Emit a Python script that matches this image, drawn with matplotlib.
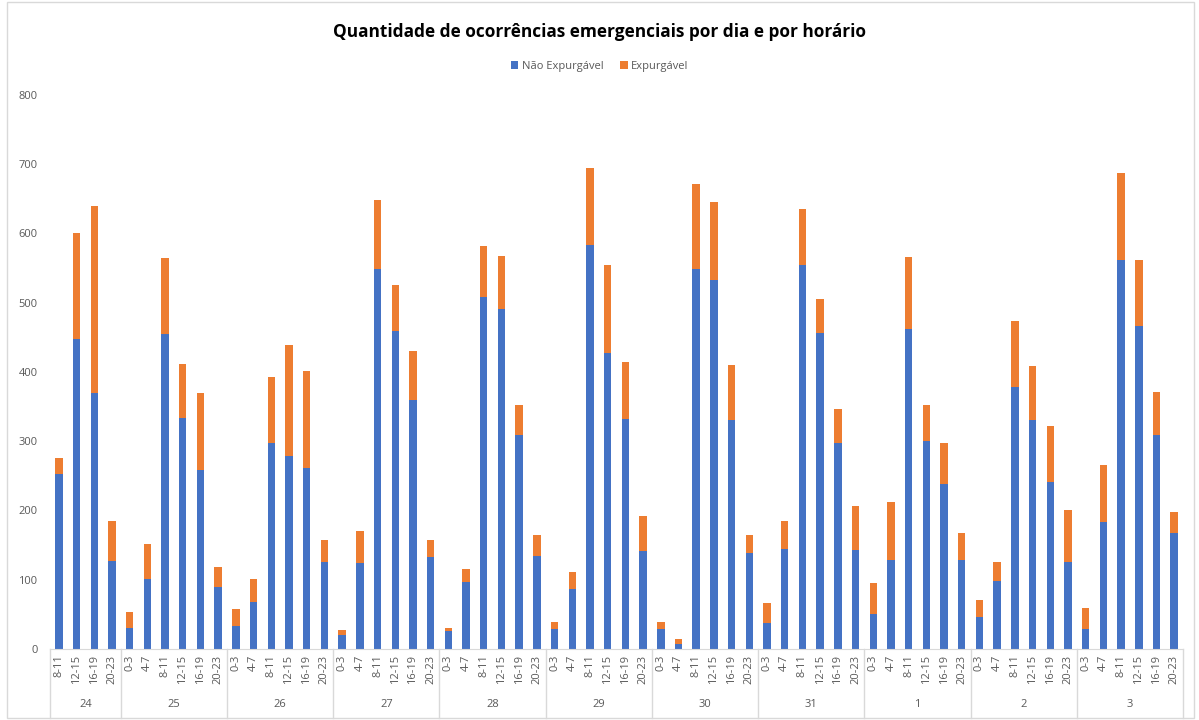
import matplotlib.pyplot as plt
import numpy as np

plt.rcParams['font.family'] = ['Open Sans', 'DejaVu Sans']

days = ['24', '25', '26', '27', '28', '29', '30', '31', '1', '2', '3']
slots = ['0-3', '4-7', '8-11', '12-15', '16-19', '20-23']
day_slots = [slots[2:]] + [slots] * 10

nao_expurgavel = [
    253, 448, 370, 127,
    31, 101, 455, 333, 259, 90,
    33, 68, 297, 278, 262, 125,
    20, 124, 549, 459, 359, 133,
    26, 97, 508, 491, 309, 134,
    29, 87, 583, 428, 332, 141,
    29, 7, 549, 533, 331, 139,
    38, 144, 555, 456, 298, 143,
    50, 129, 462, 300, 238, 128,
    46, 98, 379, 331, 241, 125,
    29, 183, 562, 466, 309, 168,
]
totais = [
    276, 600, 640, 185,
    54, 151, 565, 412, 370, 118,
    58, 101, 393, 439, 401, 157,
    27, 171, 648, 526, 430, 158,
    31, 115, 582, 568, 352, 164,
    39, 111, 694, 554, 415, 192,
    39, 14, 671, 646, 410, 164,
    66, 185, 636, 506, 347, 207,
    96, 212, 566, 353, 297, 168,
    71, 126, 474, 409, 322, 201,
    59, 265, 687, 562, 371, 198,
]
expurgavel = [t - n for t, n in zip(totais, nao_expurgavel)]

blue = '#4472C4'
orange = '#ED7D31'
grey_txt = '#595959'
line_col = '#D9D9D9'

labels = [s for group in day_slots for s in group]
x = np.arange(len(labels))

fig = plt.figure(figsize=(11.99, 7.2), dpi=100)
ax = fig.add_axes([0.0417, 0.0986, 0.945, 0.7695])

ax.bar(x, nao_expurgavel, width=0.42, color=blue, label='Não Expurgável')
ax.bar(x, expurgavel, width=0.42, bottom=nao_expurgavel, color=orange, label='Expurgável')

ax.set_xlim(-0.5, len(labels) - 0.5)
ax.set_ylim(0, 800)
ax.set_yticks(range(0, 801, 100))
ax.set_xticks(x)
ax.set_xticklabels(labels, rotation=90, fontsize=8, color=grey_txt)
ax.tick_params(axis='y', labelsize=8, colors=grey_txt, length=0, pad=9)
ax.tick_params(axis='x', length=0, pad=4)

for side in ['top', 'right', 'left']:
    ax.spines[side].set_visible(False)
ax.spines['bottom'].set_color(line_col)

# day group separators and labels
trans = ax.get_xaxis_transform()
start = 0
bounds = [-0.5]
for day, group in zip(days, day_slots):
    end = start + len(group)
    bounds.append(end - 0.5)
    ax.text((start + end - 1) / 2, -0.101, day, transform=trans,
            ha='center', va='center', fontsize=8, color=grey_txt)
    start = end
for b in bounds:
    ax.plot([b, b], [0, -0.125], transform=trans, color=line_col,
            lw=1, clip_on=False)

fig.text(0.5, 0.955, 'Quantidade de ocorrências emergenciais por dia e por horário',
         ha='center', va='center', fontsize=12.4, fontweight='bold', color='black')
fig.legend(loc='center', bbox_to_anchor=(0.5, 0.908), ncol=2, frameon=False,
           fontsize=8, handlelength=0.7, handleheight=0.7, columnspacing=1.5,
           handletextpad=0.3, labelcolor=grey_txt)

fig.patches.append(plt.Rectangle((0.006, 0.003), 0.99, 0.994, transform=fig.transFigure,
                                 fill=False, edgecolor=line_col, lw=1))

fig.savefig('out.png', dpi=100)
